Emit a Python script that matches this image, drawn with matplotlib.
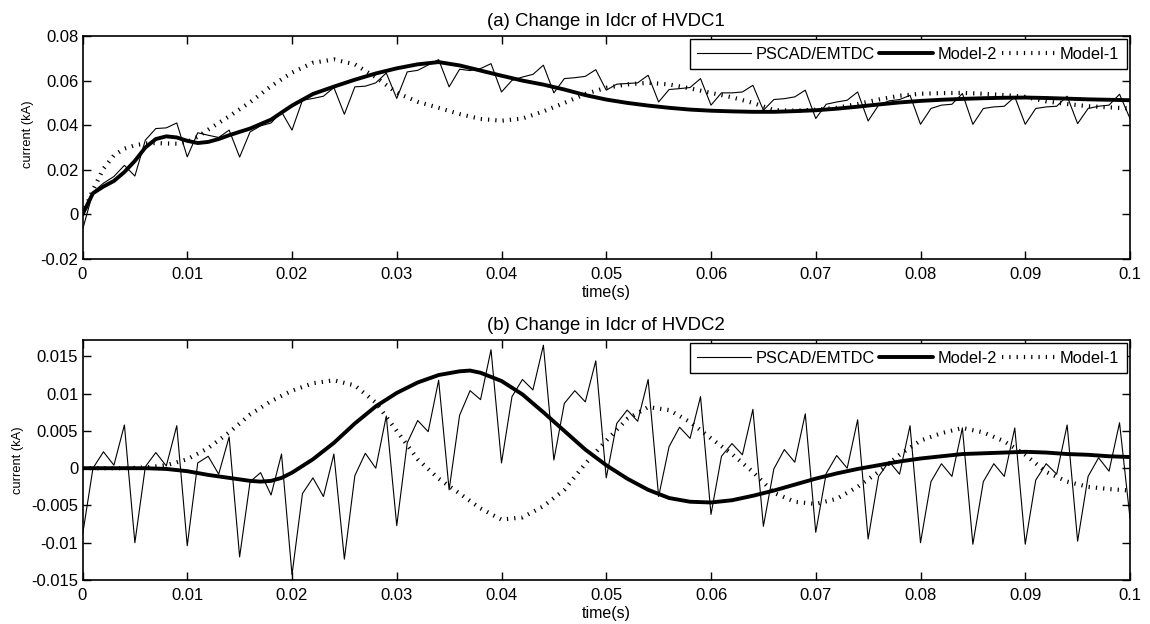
import numpy as np
import matplotlib
matplotlib.use("Agg")
import matplotlib.pyplot as plt

plt.rcParams['font.family'] = ['Liberation Sans', 'DejaVu Sans']

# ---------------- data ----------------
# PSCAD/EMTDC samples every 1 ms (0 .. 100 ms)
t_pscad = [i / 1000 for i in range(101)]

pscad_a = [-0.007, 0.010, 0.014, 0.017, 0.022, 0.0172, 0.0333, 0.0385, 0.0388, 0.041,
           0.0258, 0.0366, 0.0355, 0.0345, 0.0378, 0.0257, 0.037, 0.0397, 0.041, 0.046,
           0.0378, 0.0512, 0.052, 0.053, 0.0569, 0.0449, 0.0572, 0.0575, 0.059, 0.0634,
           0.052, 0.0639, 0.0646, 0.067, 0.0694, 0.0572, 0.0651, 0.0645, 0.0654, 0.0676,
           0.0549, 0.0601, 0.0616, 0.0628, 0.0669, 0.0545, 0.0609, 0.0613, 0.0619, 0.0649,
           0.0557, 0.0584, 0.0587, 0.059, 0.0624, 0.0504, 0.056, 0.0564, 0.0569, 0.0609,
           0.049, 0.0545, 0.0545, 0.0549, 0.0579, 0.0467, 0.0515, 0.0519, 0.0527, 0.0557,
           0.043, 0.0494, 0.0504, 0.0512, 0.0549, 0.0419, 0.049, 0.0509, 0.0515, 0.0534,
           0.0404, 0.0475, 0.049, 0.0494, 0.0542, 0.0404, 0.0475, 0.0482, 0.0485, 0.0527,
           0.0404, 0.0475, 0.0482, 0.0485, 0.053, 0.0407, 0.0475, 0.0485, 0.049, 0.0539,
           0.043]

pscad_b = [-0.009, 0.0, 0.0022, 0.0004, 0.0058, -0.010, 0.0002, 0.0021, 0.0003, 0.0057,
           -0.0104, 0.0007, 0.0016, -0.0008, 0.0042, -0.0119, -0.0018, -0.0006, -0.0036, 0.0019,
           -0.0143, -0.0034, -0.0013, -0.0038, 0.0019, -0.0122, -0.001, 0.002, 0.0, 0.007,
           -0.0077, 0.0034, 0.0064, 0.0049, 0.0118, -0.0029, 0.0071, 0.0104, 0.0092, 0.0159,
           0.0007, 0.0096, 0.0119, 0.0105, 0.0165, 0.0011, 0.0087, 0.0104, 0.0089, 0.0144,
           -0.0013, 0.006, 0.0078, 0.0063, 0.0119, -0.0038, 0.0029, 0.0055, 0.004, 0.0096,
           -0.0062, 0.0016, 0.0033, 0.0018, 0.0079, -0.0078, -0.0001, 0.0025, 0.0008, 0.0073,
           -0.0086, -0.0007, 0.0017, 0.0, 0.0065, -0.0095, -0.0011, 0.0009, -0.0008, 0.0057,
           -0.010, -0.0018, 0.0006, -0.0011, 0.0054, -0.0102, -0.0018, 0.0006, -0.0011, 0.0054,
           -0.0102, -0.0016, 0.0006, -0.0008, 0.0058, -0.0098, -0.0011, 0.0014, -0.0004, 0.0061,
           -0.0067]

# Model curves, times in ms
t_m2a = [0, 1, 2, 3, 4, 5, 6, 7, 8, 9, 10, 11, 12, 13, 14, 16, 18, 20, 22, 24, 26, 28, 30,
         32, 34, 36, 38, 40, 42, 44, 46, 48, 50, 52, 54, 56, 58, 60, 62, 64, 66, 68, 70,
         72, 74, 76, 78, 80, 82, 84, 86, 88, 90, 92, 94, 96, 98, 100]
model2_a = [0.000, 0.0095, 0.0125, 0.015, 0.019, 0.024, 0.030, 0.0338, 0.0350, 0.0345,
            0.0330, 0.0320, 0.0325, 0.0338, 0.0355, 0.0385, 0.0425, 0.0488, 0.0540, 0.0573,
            0.0604, 0.0632, 0.0655, 0.0673, 0.0683, 0.0668, 0.0645, 0.0622, 0.0600, 0.0582,
            0.0560, 0.0535, 0.0515, 0.0500, 0.0488, 0.0478, 0.0470, 0.0465, 0.0462, 0.0460,
            0.0460, 0.0463, 0.0467, 0.0474, 0.0483, 0.0493, 0.0502, 0.0509, 0.0514, 0.0518,
            0.0521, 0.0523, 0.0524, 0.0522, 0.0519, 0.0516, 0.0514, 0.0512]

t_m1a = [0, 1, 2, 3, 4, 5, 6, 7, 8, 9, 10, 11, 12, 14, 16, 18, 20, 22, 24, 26, 28, 30,
         32, 34, 36, 38, 40, 42, 44, 46, 48, 50, 52, 54, 56, 58, 60, 62, 64, 66, 68, 70,
         72, 74, 76, 78, 80, 82, 84, 86, 88, 90, 92, 94, 96, 98, 100]
model1_a = [0.000, 0.011, 0.0205, 0.0265, 0.0295, 0.0310, 0.0318, 0.0320, 0.0318, 0.0317,
            0.0325, 0.0348, 0.0380, 0.0440, 0.0503, 0.0575, 0.0636, 0.0680, 0.0695, 0.0673,
            0.0615, 0.0545, 0.0505, 0.0478, 0.0450, 0.0428, 0.0420, 0.0430, 0.0462, 0.0500,
            0.0540, 0.0568, 0.0583, 0.0590, 0.0583, 0.0565, 0.0545, 0.0525, 0.0500, 0.0468,
            0.0465, 0.0470, 0.0478, 0.0495, 0.0515, 0.0532, 0.0541, 0.0544, 0.0545, 0.0541,
            0.0535, 0.0527, 0.0507, 0.0495, 0.0485, 0.0480, 0.0475]

t_m2b = [0, 2, 4, 6, 8, 10, 12, 14, 16, 17, 18, 19, 20, 22, 24, 26, 28, 30, 32, 34, 36,
         37, 38, 40, 42, 44, 46, 48, 50, 52, 54, 56, 58, 60, 62, 64, 66, 68, 70, 72, 74,
         76, 78, 80, 82, 84, 86, 88, 90, 92, 94, 96, 98, 100]
model2_b = [0.0, 0.0, 0.0, 0.0, -0.0001, -0.0004, -0.0009, -0.0013, -0.0017, -0.0018,
            -0.0017, -0.0013, -0.0006, 0.0012, 0.0034, 0.0060, 0.0083, 0.0101, 0.0115, 0.0125,
            0.0130, 0.0131, 0.0128, 0.0117, 0.0099, 0.0075, 0.0050, 0.0025, 0.0004, -0.0014,
            -0.0029, -0.0040, -0.0045, -0.0046, -0.0043, -0.0037, -0.0030, -0.0022, -0.0014,
            -0.0007, -0.0001, 0.0004, 0.0009, 0.0013, 0.0016, 0.0019, 0.0020, 0.0021, 0.0022,
            0.0021, 0.0019, 0.0018, 0.0016, 0.0015]

t_m1b = [0, 2, 4, 6, 8, 10, 12, 14, 16, 18, 20, 22, 24, 26, 28, 30, 32, 34, 36, 38, 40,
         42, 44, 46, 48, 50, 52, 54, 56, 58, 60, 62, 64, 66, 68, 70, 72, 74, 76, 78, 80,
         82, 84, 86, 88, 90, 92, 94, 96, 98, 100]
model1_b = [0.0, 0.0, 0.0, 0.0001, 0.0004, 0.0012, 0.0027, 0.0048, 0.0072, 0.0090, 0.0104,
            0.0114, 0.0118, 0.0111, 0.0088, 0.0050, 0.0012, -0.0014, -0.0034, -0.0054, -0.0069,
            -0.0066, -0.0051, -0.0029, 0.0006, 0.0037, 0.0066, 0.0082, 0.0078, 0.0062, 0.0040,
            0.0019, -0.0005, -0.0033, -0.0045, -0.0048, -0.0041, -0.0025, -0.0005, 0.0018,
            0.0037, 0.0047, 0.0054, 0.0048, 0.0036, 0.0018, -0.0005, -0.0018, -0.0025, -0.0028,
            -0.0030]

xticks = [0, 0.01, 0.02, 0.03, 0.04, 0.05, 0.06, 0.07, 0.08, 0.09, 0.1]
xticklabels = ['0', '0.01', '0.02', '0.03', '0.04', '0.05', '0.06', '0.07', '0.08', '0.09', '0.1']
yticks_a = [-0.02, 0, 0.02, 0.04, 0.06, 0.08]
yticklabels_a = ['-0.02', '0', '0.02', '0.04', '0.06', '0.08']
yticks_b = [-0.015, -0.01, -0.005, 0, 0.005, 0.01, 0.015]
yticklabels_b = ['-0.015', '-0.01', '-0.005', '0', '0.005', '0.01', '0.015']

titles = ['(a) Change in Idcr of HVDC1', '(b) Change in Idcr of HVDC2']
labels = ['PSCAD/EMTDC', 'Model-2', 'Model-1']

# ---------------- figure ----------------
fig = plt.figure(figsize=(11.5, 6.24), dpi=100)
ax_a = fig.add_axes([82.5 / 1150, (624 - 259) / 624, (1130 - 82.5) / 1150, (259 - 36) / 624])
ax_b = fig.add_axes([82.5 / 1150, (624 - 580) / 624, (1130 - 82.5) / 1150, (580 - 340) / 624])

ms = lambda lst: [v / 1000 for v in lst]

panels = [
    (ax_a, pscad_a, t_m2a, model2_a, t_m1a, model1_a, (-0.02, 0.08), yticks_a, yticklabels_a, titles[0], 0.558),
    (ax_b, pscad_b, t_m2b, model2_b, t_m1b, model1_b, (-0.015, 0.0172), yticks_b, yticklabels_b, titles[1], 0.5),
]

for ax, ps, tm2, m2, tm1, m1, ylim, yt, ytl, title, ylab_y in panels:
    ax.plot(t_pscad, ps, color='black', lw=0.8, label=labels[0])
    ax.plot(ms(tm2), m2, color='black', lw=2.8, label=labels[1], solid_capstyle='round')
    ax.plot(ms(tm1), m1, color='black', lw=3.0, linestyle=(0, (0.3, 1.45)),
            dash_capstyle='butt', label=labels[2])
    ax.set_xlim(0, 0.1)
    ax.set_ylim(*ylim)
    ax.set_xticks(xticks)
    ax.set_xticklabels(xticklabels)
    ax.set_yticks(yt)
    ax.set_yticklabels(ytl)
    ax.tick_params(direction='in', length=6, width=1.0, top=True, right=True,
                   labelsize=12, pad=6)
    ax.tick_params(axis='y', pad=3)
    for sp in ax.spines.values():
        sp.set_linewidth(1.2)
    ax.set_title(title, fontsize=13.4, pad=7)
    ax.set_xlabel('time(s)', fontsize=11.5, labelpad=2)
    ax.set_ylabel('current (kA)', fontsize=9.3, labelpad=5, y=ylab_y)
    leg = ax.legend(loc='upper right', ncol=3, fontsize=11.8, frameon=True, fancybox=False,
                    framealpha=1, edgecolor='black', handlelength=3.3, handletextpad=0.25,
                    columnspacing=0.3, borderpad=0.45, borderaxespad=0.2)
    leg.get_frame().set_linewidth(1.0)

fig.savefig('out.png', dpi=100)
